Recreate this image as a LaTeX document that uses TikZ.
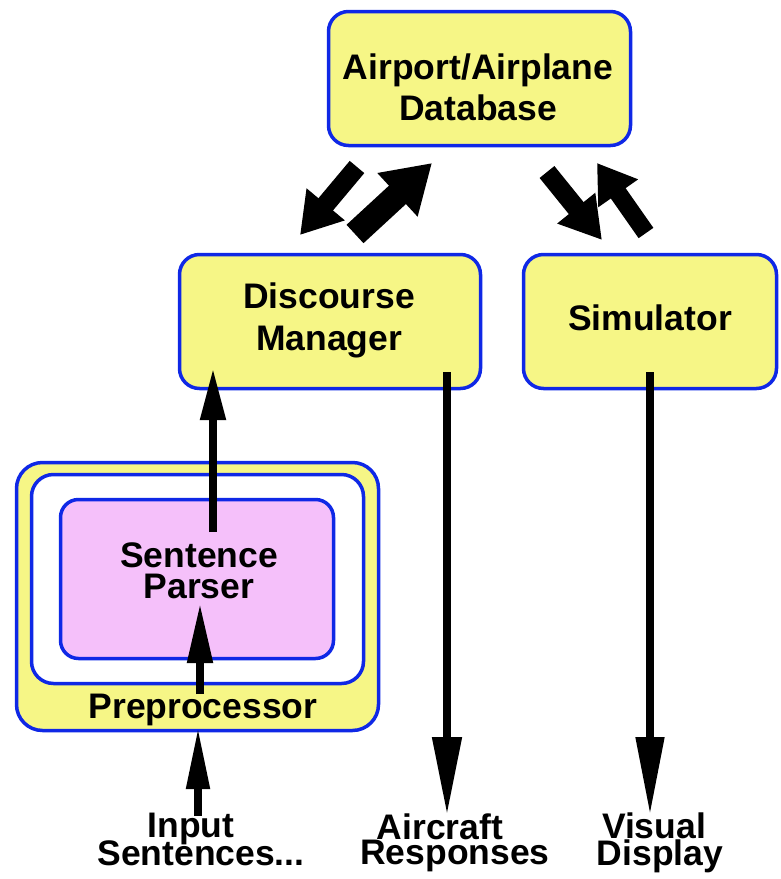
\documentclass[tikz,border=0pt]{standalone}
\usepackage{fontspec}
\setmainfont{Liberation Sans}
\usetikzlibrary{arrows.meta}
\definecolor{bbl}{RGB}{15,40,230}
\definecolor{yel}{RGB}{246,246,134}
\definecolor{pnk}{RGB}{245,192,250}
\begin{document}
\begin{tikzpicture}[x=1pt,y=-1pt,
  box/.style={draw=bbl, line width=3.5pt, fill=yel, rounded corners=20pt, inner sep=0pt},
  txt/.style={font=\fontsize{35.5}{40}\selectfont\bfseries, anchor=base, inner sep=0pt},
  varrow/.style={line width=8pt, draw=black},
  fat/.style={draw=black}]
\useasboundingbox (0,0) rectangle (780,879);
% boxes
\node[box, minimum width=302pt, minimum height=134pt] (db) at (479.5,78.5) {};
\node[box, minimum width=301pt, minimum height=134pt] (dm) at (330,321.5) {};
\node[box, minimum width=253pt, minimum height=134pt] (sim) at (650,321.5) {};
\node[box, rounded corners=26pt, minimum width=362pt, minimum height=268pt] (pre) at (197.5,596.5) {};
\node[box, fill=white, rounded corners=22pt, minimum width=332pt, minimum height=209pt] (prew) at (197.5,579) {};
\node[box, fill=pnk, rounded corners=18pt, minimum width=273pt, minimum height=159pt] (sp) at (197,579) {};
% texts
\node[txt] (dbt1) at (478,79) {Airport/Airplane};
\node[txt] (dbt2) at (478,120) {Database};
\node[txt] (dmt1) at (329,308) {Discourse};
\node[txt] (dmt2) at (329,350) {Manager};
\node[txt] (simt) at (650,330) {Simulator};
\node[txt] (spt1) at (199,567) {Sentence};
\node[txt] (spt2) at (199,598) {Parser};
\node[txt] (pret) at (203,718) {Preprocessor};
\node[txt] (in1) at (191,837) {Input};
\node[txt] (in2) at (201,865) {Sentences...};
\node[txt] (ac1) at (440,839) {Aircraft};
\node[txt] (ac2) at (455,864) {Responses};
\node[txt] (vi1) at (654,838) {Visual};
\node[txt] (vi2) at (660,865) {Display};
% vertical arrow coordinates
\coordinate (aS) at (213,532); \coordinate (aE) at (213,368);
\coordinate (bS) at (200,694); \coordinate (bE) at (200,603);
\coordinate (cS) at (198,816); \coordinate (cE) at (198,727);
\coordinate (dS) at (447,372); \coordinate (dE) at (447,815);
\coordinate (eS) at (650,372); \coordinate (eE) at (650,815);
\draw[varrow, -{Triangle[length=52pt,width=24pt]}] (aS) -- (aE);
\draw[varrow, -{Triangle[length=60pt,width=24pt]}] (bS) -- (bE);
\draw[varrow, -{Triangle[length=62pt,width=22pt]}] (cS) -- (cE);
\draw[varrow, -{Triangle[length=78pt,width=28pt]}] (dS) -- (dE);
\draw[varrow, -{Triangle[length=78pt,width=27pt]}] (eS) -- (eE);
% fat arrows between database and the two lower boxes
\coordinate (f1S) at (357,167); \coordinate (f1E) at (300,235);
\coordinate (f2S) at (355,234); \coordinate (f2E) at (432,163);
\coordinate (f3S) at (547,172); \coordinate (f3E) at (602,240);
\coordinate (f4S) at (646,233); \coordinate (f4E) at (597,163);
\draw[fat, line width=19pt, -{Triangle[length=40pt,width=47pt]}] (f1S) -- (f1E);
\draw[fat, line width=25pt, -{Triangle[length=47pt,width=56pt]}] (f2S) -- (f2E);
\draw[fat, line width=19pt, -{Triangle[length=41pt,width=46pt]}] (f3S) -- (f3E);
\draw[fat, line width=18pt, -{Triangle[length=37pt,width=46pt]}] (f4S) -- (f4E);
\end{tikzpicture}
\end{document}
